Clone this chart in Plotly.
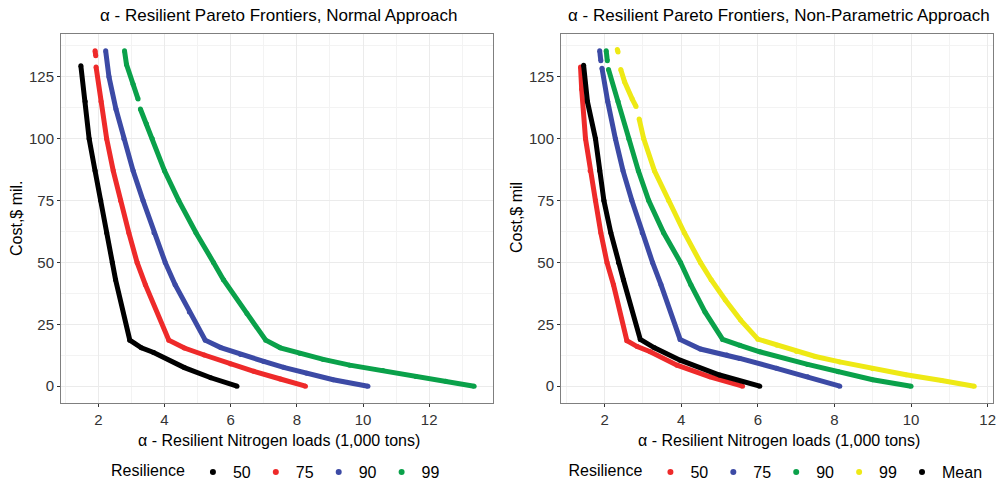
import plotly.graph_objects as go

# ---------------- data (x = nitrogen loads, 1,000 tons ; y = cost, $ mil) ----------------
N = None
# Left panel: Normal approach
L50_x = [1.47, 1.60, 1.72, 1.90, 2.07, 2.25, 2.42, 2.52, 2.95, 3.30, 3.67, 4.60, 5.40, 6.19]
L50_y = [129.5, 115, 100, 87, 75, 62, 50, 43, 18.6, 15.5, 13.6, 7.5, 3.4, 0]
L75_x = [1.90, 1.92, N, 1.93, 2.08, 2.25, 2.45, 2.67, 2.92, 3.17, 3.42, 4.13, 4.60, 5.20, 6.00, 6.70, 7.50, 8.26]
L75_y = [135.5, 133.5, N, 129, 115, 100, 87, 75, 62, 50, 41, 18.6, 15.4, 12.6, 9.0, 6.0, 2.9, 0]
L90_x = [2.22, 2.32, 2.53, 2.77, 3.05, 3.35, 3.68, 4.02, 4.32, 4.75, 5.23, 5.70, 6.30, 7.00, 7.60, 8.30, 9.10, 10.15]
L90_y = [135.5, 125, 112, 100, 87, 75, 62, 50, 41, 30, 18.6, 15.6, 12.8, 10.0, 7.6, 5.2, 2.6, 0]
L99_x = [2.79, 2.85, 3.05, 3.20, N, 3.27, 3.45, 3.63, 4.00, 4.43, 4.95, 5.48, 5.78, 6.49, 7.06, 7.50, 8.10,
         8.80, 9.60, 10.60, 11.60, 12.50, 13.36]
L99_y = [135.5, 130, 122, 116, N, 112, 106, 100, 87, 75, 62, 50, 43, 29.4, 18.6, 15.5, 13.2,
         10.8, 8.5, 6.3, 3.9, 2.0, 0]

# Right panel: Non-parametric approach
R50_x = [1.37, 1.40, 1.50, 1.62, 1.76, 1.90, 2.06, 2.23, 2.58, 2.85, 3.19, 3.89, 4.75, 5.60]
R50_y = [129, 120, 100, 87, 75, 62, 50, 41, 18.4, 16.0, 13.9, 8.5, 3.8, 0]
R75_x = [1.87, 1.90, N, 1.93, 2.08, 2.28, 2.48, 2.71, 2.98, 3.25, 3.47, 3.97, 4.50, 5.19, 5.53, 6.49, 7.30, 8.14]
R75_y = [135.5, 131.5, N, 128.5, 115, 100, 87, 75, 62, 50, 41, 18.9, 15.0, 12.6, 11.2, 7.2, 3.8, 0]
R90_x = [2.04, 2.07, N, 2.10, 2.35, 2.63, 2.88, 3.15, 3.54, 3.98, 4.25, 4.62, 5.08, 5.53, 6.05, 7.30, 8.10, 9.00, 10.00]
R90_y = [135.5, 131.5, N, 128, 115, 100, 87, 75, 62, 50, 41, 30, 18.9, 16.5, 13.9, 8.8, 5.8, 2.6, 0]
R99_x = [2.33, 2.35, N, 2.42, 2.52, 2.72, 2.82, N, 2.90, 3.02, 3.30, 3.67, 4.08, 4.50, 4.78, 5.15, 5.55,
         6.00, 6.50, 7.01, 7.50, 8.14, 9.00, 9.87, 10.80, 11.65]
R99_y = [136, 135, N, 128, 123, 116, 113, N, 108, 100, 87, 75, 62, 50, 43, 34.8, 26.7,
         19.0, 16.5, 14.0, 12.0, 9.8, 7.0, 4.6, 2.3, 0]
RM_x = [1.45, 1.55, 1.76, 1.87, 1.98, 2.16, 2.36, 2.49, 2.93, 3.30, 3.97, 5.00, 6.05]
RM_y = [129.7, 115, 100, 87, 75, 62, 50, 43, 18.9, 15.5, 10.5, 4.5, 0]

left_names = ["50", "75", "90", "99"]
right_names = ["50", "75", "90", "99", "Mean"]
x_ticks = [2, 4, 6, 8, 10, 12]
y_ticks = [0, 25, 50, 75, 100, 125]

BLACK, RED, BLUE, GREEN, YELLOW = "#000000", "#ee2a2a", "#3c4aa5", "#0aa14a", "#eee915"

left_series = [(L50_x, L50_y, BLACK), (L75_x, L75_y, RED), (L90_x, L90_y, BLUE), (L99_x, L99_y, GREEN)]
right_series = [(R50_x, R50_y, RED), (R75_x, R75_y, BLUE), (R90_x, R90_y, GREEN),
                (R99_x, R99_y, YELLOW), (RM_x, RM_y, BLACK)]

fig = go.Figure()

def add_panel(series, names, xa, ya, legend):
    for (x, y, c), nm in zip(series, names):
        fig.add_trace(go.Scatter(x=x, y=y, mode="lines+markers", xaxis=xa, yaxis=ya,
                                 line=dict(color=c, width=5), marker=dict(color=c, size=5),
                                 connectgaps=False, showlegend=False, hoverinfo="skip"))
    for (x, y, c), nm in zip(series, names):
        fig.add_trace(go.Scatter(x=[None], y=[None], mode="markers", xaxis=xa, yaxis=ya,
                                 marker=dict(color=c, size=6), name=nm, legend=legend,
                                 showlegend=True))

add_panel(left_series, left_names, "x", "y", "legend")
add_panel(right_series, right_names, "x2", "y2", "legend2")

FONT = "Liberation Sans, Arial, sans-serif"
GRID = "#ebebeb"
MINOR = "#f3f3f3"
TICK_SIZE = 15

def xaxis(dom, rng, anchor):
    return dict(domain=dom, range=rng, anchor=anchor, tickvals=x_ticks, ticktext=[str(v) for v in x_ticks],
                showgrid=True, gridcolor=GRID, gridwidth=1, zeroline=False, automargin=False,
                minor=dict(dtick=1, tick0=0, showgrid=True, gridcolor=MINOR, gridwidth=0.6),
                showline=True, mirror=True, linecolor="#7f7f7f", linewidth=1,
                ticks="outside", ticklen=3, tickcolor="#333333",
                tickfont=dict(family=FONT, size=TICK_SIZE, color="#333333"))

def yaxis(rng, anchor):
    return dict(domain=[82 / 485, 451 / 485], range=rng, anchor=anchor, tickvals=y_ticks,
                ticktext=[str(v) for v in y_ticks], automargin=False,
                showgrid=True, gridcolor=GRID, gridwidth=1, zeroline=False,
                minor=dict(dtick=12.5, tick0=0, showgrid=True, gridcolor=MINOR, gridwidth=0.6),
                showline=True, mirror=True, linecolor="#7f7f7f", linewidth=1,
                ticks="outside", ticklen=3, tickcolor="#333333",
                tickfont=dict(family=FONT, size=TICK_SIZE, color="#333333"))

yr = [-6.8, 142.3]
legend_common = dict(orientation="h", xanchor="center", y=13 / 485, yanchor="middle",
                     title=dict(text="Resilience", side="left", font=dict(size=16)),
                     font=dict(size=16), itemwidth=30, bgcolor="rgba(0,0,0,0)")
fig.update_layout(
    width=998, height=485, margin=dict(l=0, r=0, t=0, b=0, autoexpand=False),
    paper_bgcolor="white", plot_bgcolor="white",
    font=dict(family=FONT, size=14, color="#000000"),
    xaxis=xaxis([61 / 998, 493 / 998], [0.87, 13.93], "y"),
    yaxis=yaxis(yr, "x"),
    xaxis2=xaxis([561 / 998, 993 / 998], [0.86, 12.14], "y2"),
    yaxis2=yaxis(yr, "x2"),
    legend=dict(x=277 / 998, **legend_common),
    legend2=dict(x=777 / 998, **legend_common),
)

ann = [
    dict(text="α - Resilient Pareto Frontiers, Normal Approach", x=279 / 998, y=(485 - 16) / 485, size=17),
    dict(text="α - Resilient Pareto Frontiers, Non-Parametric Approach", x=779 / 998, y=(485 - 16) / 485, size=17),
    dict(text="α - Resilient Nitrogen loads (1,000 tons)", x=279 / 998, y=(485 - 440) / 485, size=16),
    dict(text="α - Resilient Nitrogen loads (1,000 tons)", x=779 / 998, y=(485 - 440) / 485, size=16),
    dict(text="Cost,$ mil.", x=17 / 998, y=(485 - 218) / 485, textangle=-90, size=16),
    dict(text="Cost,$ mil", x=517 / 998, y=(485 - 218) / 485, textangle=-90, size=16),
]
for a in ann:
    sz = a.pop("size")
    fig.add_annotation(xref="paper", yref="paper", showarrow=False, xanchor="center", yanchor="middle",
                       font=dict(family=FONT, size=sz, color="#000000"), **a)

fig.write_html("out.html")
